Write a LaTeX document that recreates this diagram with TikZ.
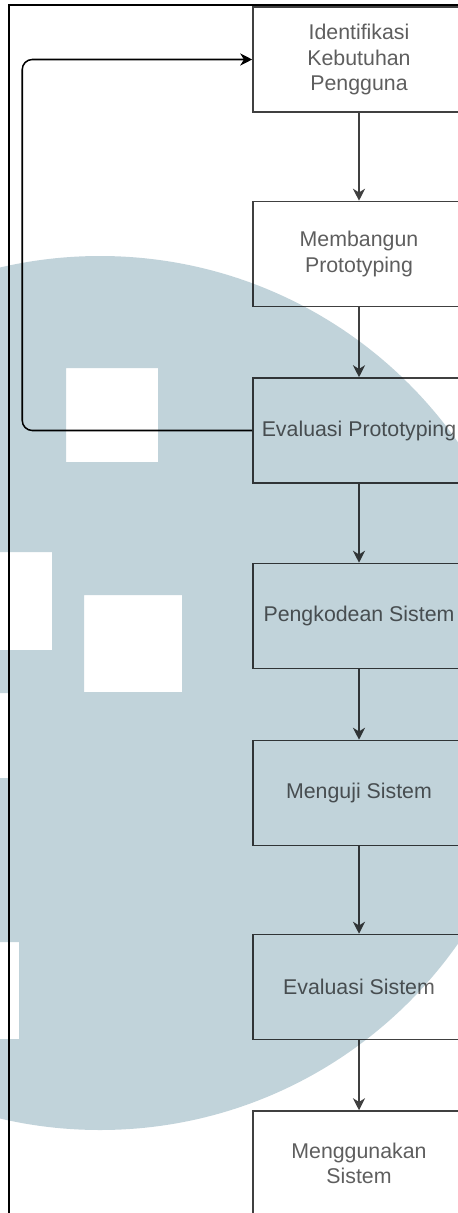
\documentclass[tikz,border=0pt]{standalone}
\usepackage{fontspec}
\setmainfont{Liberation Sans}
\usetikzlibrary{arrows.meta}
\definecolor{wmblue}{HTML}{C1D3DA}
\definecolor{boxline}{HTML}{404040}
\definecolor{boxtext}{HTML}{5E5E5E}
\begin{document}
\begin{tikzpicture}[x=0.75pt, y=-0.75pt]
    \tikzstyle{stage} = [rectangle, draw=boxline, line width=1.15pt, text=boxtext, align=center, minimum width=159pt, minimum height=78.75pt, inner sep=2pt, font=\fontsize{16}{19}\selectfont]
    \tikzstyle{flowline} = [draw=boxline, line width=1.15pt, -{Stealth[length=9pt, width=9pt, inset=2.8pt]}]
    \useasboundingbox (0,0) rectangle (457,1213);

    % Frame
    \draw[line width=1pt] (9,1230) -- (9,5) -- (480,5);

    % Identifikasi
    \node [stage] (ident) at (359,59.5) {Identifikasi\\Kebutuhan\\Pengguna};

    % Membangun
    \node [stage] (mproto) at (359,254) {Membangun\\Prototyping};

    % Evaluasi prototyping
    \node [stage] (eproto) at (359,430.5) {Evaluasi Prototyping};

    % Pengkodean
    \node [stage] (kode) at (359,616) {Pengkodean Sistem};

    % Menguji
    \node [stage] (uji) at (359,793) {Menguji Sistem};

    % Evaluasi sistem
    \node [stage] (esistem) at (359,987) {Evaluasi Sistem};

    % Menggunakan
    \node [stage] (guna) at (359,1163.5) {Menggunakan\\Sistem};

    \draw[flowline] (ident) -- (mproto);
    \draw[flowline] (mproto) -- (eproto);
    \draw[flowline] (eproto) -- (kode);
    \draw[flowline] (kode) -- (uji);
    \draw[flowline] (uji) -- (esistem);
    \draw[flowline] (esistem) -- (guna);

    % Balik ke identifikasi
    \draw[flowline, draw=black, rounded corners=7.5pt] (eproto.west) -- ++(-230,0) |- (ident.west);

    % Watermark
    \begin{scope}[blend mode=multiply]
        \fill[wmblue, even odd rule] (100,693) circle [radius=437]
            (66,368) rectangle (158,462)
            (-10,552) rectangle (52,650)
            (84,595) rectangle (182,692)
            (-10,693) rectangle (8,778)
            (-10,942) rectangle (19,1039);
    \end{scope}
\end{tikzpicture}
\end{document}
